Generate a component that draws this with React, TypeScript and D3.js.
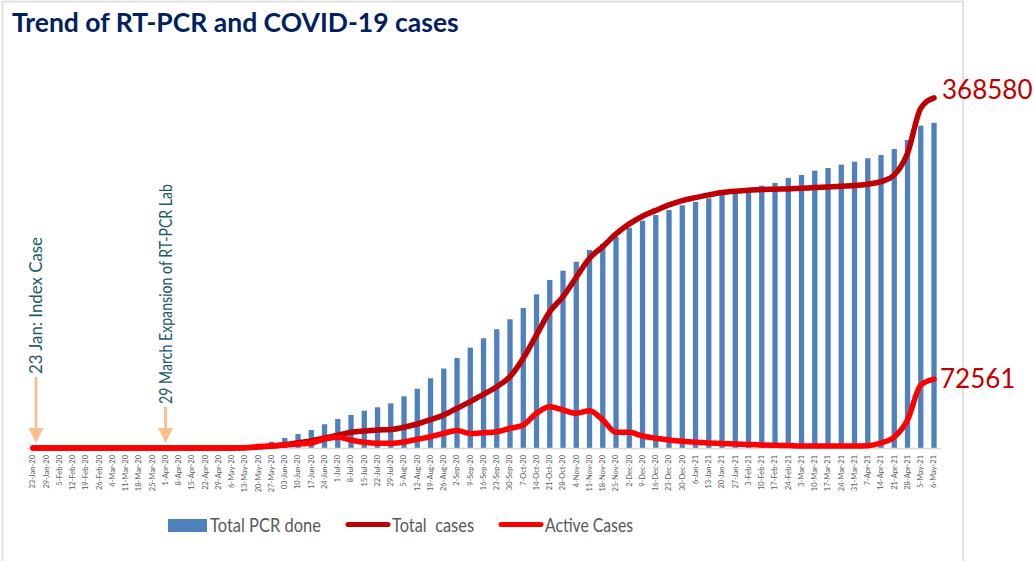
import React, { useEffect, useRef } from 'react';
import * as d3 from 'd3';

// weekly dates on the x axis
const categories = [
  '23-Jan-20', '29-Jan-20', '5-Feb-20', '12-Feb-20', '19-Feb-20', '26-Feb-20', '4-Mar-20', '11-Mar-20',
  '18-Mar-20', '25-Mar-20', '1-Apr-20', '8-Apr-20', '15-Apr-20', '22-Apr-20', '29-Apr-20', '6-May-20',
  '13-May-20', '20-May-20', '27-May-20', '03-Jun-20', '10-Jun-20', '17-Jun-20', '24-Jun-20', '1-Jul-20',
  '8-Jul-20', '15-Jul-20', '22-Jul-20', '29-Jul-20', '5-Aug-20', '12-Aug-20', '19-Aug-20', '26-Aug-20',
  '2-Sep-20', '9-Sep-20', '16-Sep-20', '23-Sep-20', '30-Sep-20', '7-Oct-20', '14-Oct-20', '21-Oct-20',
  '28-Oct-20', '4-Nov-20', '11-Nov-20', '18-Nov-20', '25-Nov-20', '2-Dec-20', '9-Dec-20', '16-Dec-20',
  '23-Dec-20', '30-Dec-20', '6-Jan-21', '13-Jan-21', '20-Jan-21', '27-Jan-21', '3-Feb-21', '10-Feb-21',
  '17-Feb-21', '24-Feb-21', '3-Mar-21', '10-Mar-21', '17-Mar-21', '24-Mar-21', '31-Mar-21', '7-Apr-21',
  '14-Apr-21', '21-Apr-21', '28-Apr-21', '5-May-21', '6-May-21',
];

// bars (secondary axis, tests)
const pcrDone = [
  0, 0, 0, 0, 0, 0, 0, 0, 100, 300, 1000, 2000, 4000, 6000, 9000, 13000,
  20000, 34000, 53000, 84000, 118000, 152000, 200000, 244000, 278000, 314000, 343000, 376000, 435000, 499000, 587000, 669000,
  758000, 845000, 924000, 1000000, 1084000, 1179000, 1294000, 1415000, 1493000, 1569000, 1667000, 1718000, 1779000, 1855000, 1914000, 1962000,
  2004000, 2044000, 2072000, 2103000, 2131000, 2158000, 2178000, 2209000, 2232000, 2274000, 2299000, 2335000, 2358000, 2386000, 2411000, 2440000,
  2467000, 2518000, 2594000, 2714000, 2739000,
];

const totalCases = [
  1, 1, 1, 1, 1, 1, 1, 1, 1, 1, 5, 9, 31, 52, 57, 101,
  249, 1000, 2000, 3500, 5500, 7500, 10500, 13500, 16500, 17900, 18960, 19480, 21800, 25270, 29800, 34750,
  41800, 48760, 56550, 64550, 75090, 94460, 119000, 143540, 159340, 179770, 199770, 211990, 225360, 235890, 244000, 250110,
  255900, 260430, 263590, 266430, 268860, 270330, 271390, 272020, 272440, 272760, 273490, 274120, 274860, 275600, 276230, 277710,
  280440, 287500, 310350, 357740, 368580,
];

const activeCases = [
  0, 1, 1, 1, 1, 1, 1, 1, 1, 1, 4, 8, 25, 42, 40, 70,
  200, 1580, 2100, 3160, 4200, 5270, 9480, 11270, 8420, 6000, 4950, 4950, 6320, 9160, 11900, 15480,
  18430, 15270, 16110, 17170, 20750, 24220, 36540, 43490, 40020, 36540, 39280, 29490, 16530, 16530, 12640, 10210,
  8420, 7050, 6000, 5270, 4740, 4210, 3690, 3160, 2840, 2630, 2100, 2100, 2100, 2100, 2100, 2420,
  5270, 11580, 29490, 66340, 72561,
];

const annotations = [
  { cat: '23-Jan-20', label: '23 Jan: Index Case', textBottom: 374, len: 137, dx: 3 },
  { cat: '1-Apr-20', label: '29 March Expansion of RT-PCR Lab', textBottom: 404, len: 220, dx: 0 },
];

export default function App() {
  const svgRef = useRef<SVGSVGElement>(null);

  useEffect(() => {
    if (!svgRef.current) return;
    const svg = d3.select(svgRef.current);
    svg.selectAll('*').remove();

    const font = 'Lato, "Open Sans", sans-serif';
    const baseY = 448;
    const topY = 68;

    // slide frame
    svg.append('path')
      .attr('d', 'M2.5,561 V1.5 H963 V561')
      .attr('fill', 'none')
      .attr('stroke', '#d9d9d9')
      .attr('stroke-width', 1.5);

    svg.append('text')
      .attr('x', 12)
      .attr('y', 32)
      .attr('font-family', font)
      .attr('font-weight', 700)
      .attr('font-size', 26.5)
      .attr('fill', '#002060')
      .text('Trend of RT-PCR and COVID-19 cases');

    const x = d3.scaleBand<string>()
      .domain(categories)
      .range([26.4, 940.65])
      .paddingInner(0.6)
      .paddingOuter(0.3);
    const cx = (d: string) => (x(d) || 0) + x.bandwidth() / 2;

    const yCases = d3.scaleLinear().domain([0, 400000]).range([baseY, topY]);
    const yTests = d3.scaleLinear().domain([0, 3200000]).range([baseY, topY]);

    // bars
    svg.append('g')
      .selectAll('rect')
      .data(categories)
      .join('rect')
      .attr('x', d => x(d) || 0)
      .attr('width', x.bandwidth())
      .attr('y', (d, i) => yTests(pcrDone[i]))
      .attr('height', (d, i) => baseY - yTests(pcrDone[i]))
      .attr('fill', '#4f81bd');

    // x axis
    const axis = svg.append('g')
      .attr('transform', `translate(0,${baseY})`)
      .call(d3.axisBottom(x).tickSize(0).tickSizeOuter(0));
    axis.select('.domain').attr('stroke', '#d9d9d9').attr('stroke-width', 1.5);
    axis.selectAll('text')
      .attr('transform', 'rotate(-90)')
      .attr('x', -7)
      .attr('y', 0)
      .attr('dy', '0.32em')
      .attr('font-family', font)
      .attr('font-size', 7.5)
      .attr('fill', '#595959')
      .style('text-anchor', 'end');

    const line = (vals: number[]) => d3.line<string>()
      .x(d => cx(d))
      .y((d, i) => yCases(vals[i]))
      .curve(d3.curveMonotoneX)(categories);

    svg.append('path')
      .attr('d', line(totalCases))
      .attr('fill', 'none')
      .attr('stroke', '#c00000')
      .attr('stroke-width', 5.5)
      .attr('stroke-linejoin', 'round')
      .attr('stroke-linecap', 'round');

    svg.append('path')
      .attr('d', line(activeCases))
      .attr('fill', 'none')
      .attr('stroke', '#ff0000')
      .attr('stroke-width', 5.5)
      .attr('stroke-linejoin', 'round')
      .attr('stroke-linecap', 'round');

    // end labels
    const last = categories[categories.length - 1];
    svg.append('text')
      .attr('x', cx(last) + 8)
      .attr('y', yCases(totalCases[totalCases.length - 1]) + 1)
      .attr('font-family', font)
      .attr('font-size', 26)
      .attr('fill', '#c00000')
      .text(String(totalCases[totalCases.length - 1]));
    svg.append('text')
      .attr('x', cx(last) + 6)
      .attr('y', yCases(activeCases[activeCases.length - 1]) + 9)
      .attr('font-family', font)
      .attr('font-size', 26)
      .attr('fill', '#c00000')
      .text(String(activeCases[activeCases.length - 1]));

    // annotations with arrows
    annotations.forEach(a => {
      const ax = cx(a.cat) + a.dx;
      svg.append('path')
        .attr('d', `M${ax - 1.5},${a.textBottom + 3} H${ax + 1.5} V428 H${ax + 7.5} L${ax},443 L${ax - 7.5},428 H${ax - 1.5} Z`)
        .attr('fill', '#fac090');
      svg.append('text')
        .attr('transform', `translate(${ax + 6},${a.textBottom}) rotate(-90)`)
        .attr('font-family', font)
        .attr('font-size', 17)
        .attr('textLength', a.len)
        .attr('lengthAdjust', 'spacingAndGlyphs')
        .attr('fill', '#215968')
        .text(a.label);
    });

    // legend
    const lg = svg.append('g').attr('font-family', font).attr('font-size', 20).attr('fill', '#595959');
    lg.append('rect').attr('x', 168).attr('y', 519).attr('width', 39).attr('height', 13).attr('fill', '#4f81bd');
    lg.append('text').attr('x', 210).attr('y', 532)
      .attr('textLength', 111).attr('lengthAdjust', 'spacingAndGlyphs').text('Total PCR done');
    lg.append('line').attr('x1', 348).attr('x2', 388).attr('y1', 524.5).attr('y2', 524.5)
      .attr('stroke', '#c00000').attr('stroke-width', 5).attr('stroke-linecap', 'round');
    lg.append('text').attr('x', 392).attr('y', 532).style('white-space', 'pre')
      .attr('textLength', 82).attr('lengthAdjust', 'spacingAndGlyphs').text('Total  cases');
    lg.append('line').attr('x1', 501).attr('x2', 541).attr('y1', 524.5).attr('y2', 524.5)
      .attr('stroke', '#ff0000').attr('stroke-width', 5).attr('stroke-linecap', 'round');
    lg.append('text').attr('x', 545).attr('y', 532)
      .attr('textLength', 88).attr('lengthAdjust', 'spacingAndGlyphs').text('Active Cases');
  }, []);

  return (
    <div style={{ position: 'absolute', left: 0, top: 0 }}>
      <svg ref={svgRef} width={1034} height={561} style={{ display: 'block', background: '#fff' }} />
    </div>
  );
}
